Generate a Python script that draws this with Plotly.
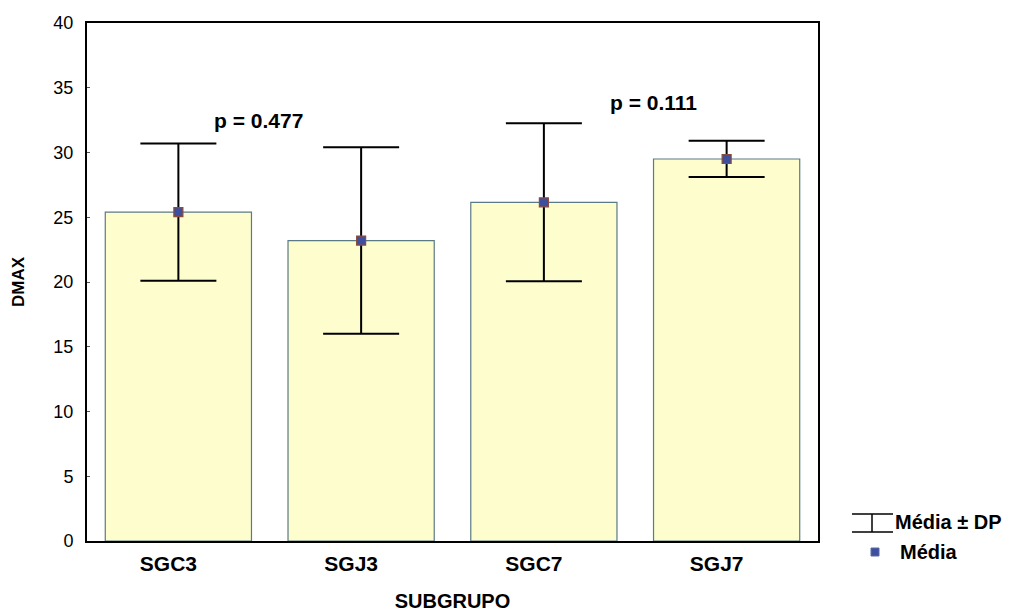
import plotly.graph_objects as go

# Subgroups, mean DMAX and standard deviation
subgrupos = ["SGC3", "SGJ3", "SGC7", "SGJ7"]
medias = [25.4, 23.2, 26.15, 29.5]
desvios = [5.3, 7.2, 6.1, 1.4]

# p-value labels: (text, x position in category units, y value)
p_textos = ["p = 0.477", "p = 0.111"]
p_x = [0.44, 2.60]
p_y = [32.5, 33.9]

FONT = "Liberation Sans, Arial, sans-serif"
x_pos = list(range(len(subgrupos)))

fig = go.Figure()

fig.add_trace(go.Bar(
    x=x_pos, y=medias, width=0.8,
    marker=dict(color="#fdfdcd", line=dict(color="#5a7a86", width=1.2)),
    showlegend=False, hoverinfo="skip",
))

fig.add_trace(go.Scatter(
    x=x_pos, y=medias, mode="markers",
    marker=dict(symbol="square", size=9, color="#3d4f9e",
                line=dict(color="#8a4b3e", width=1.2)),
    error_y=dict(type="data", array=desvios, visible=True,
                 color="black", thickness=2, width=38),
    showlegend=False,
))

for t, x, y in zip(p_textos, p_x, p_y):
    fig.add_annotation(x=x, y=y, text=f"<b>{t}</b>", showarrow=False,
                       font=dict(family=FONT, size=21, color="black"))

# Legend drawn beside the plot
lg = dict(xref="paper", yref="paper", line=dict(color="black", width=1.5))
def px_x(v):
    return (v - 87) / (818 - 87)
def px_y(v):
    return (541 - v) / (541 - 23)
fig.add_shape(type="line", x0=px_x(852), x1=px_x(893), y0=px_y(514), y1=px_y(514), **lg)
fig.add_shape(type="line", x0=px_x(852), x1=px_x(893), y0=px_y(532), y1=px_y(532), **lg)
fig.add_shape(type="line", x0=px_x(872), x1=px_x(872), y0=px_y(514), y1=px_y(532), **lg)
fig.add_shape(type="rect", x0=px_x(871), x1=px_x(879), y0=px_y(556), y1=px_y(548),
              xref="paper", yref="paper", fillcolor="#3d4f9e",
              line=dict(color="#5a6aa8", width=1))
fig.add_annotation(xref="paper", yref="paper", x=px_x(893), y=px_y(522),
                   text="<b>Média ± DP</b>", showarrow=False,
                   xanchor="left", yanchor="middle",
                   font=dict(family=FONT, size=20, color="black"))
fig.add_annotation(xref="paper", yref="paper", x=px_x(898), y=px_y(552),
                   text="<b>Média</b>", showarrow=False,
                   xanchor="left", yanchor="middle",
                   font=dict(family=FONT, size=20, color="black"))

fig.update_layout(
    width=1010, height=612,
    margin=dict(l=87, r=192, t=23, b=71),
    paper_bgcolor="white", plot_bgcolor="white",
    font=dict(family=FONT, color="black"),
    bargap=0.2,
)
fig.update_xaxes(
    range=[-0.5, 3.5], tickmode="array", tickvals=x_pos,
    ticktext=[f"<b>{s}</b>" for s in subgrupos],
    tickfont=dict(family=FONT, size=21), showgrid=False, zeroline=False,
    showline=True, linecolor="black", linewidth=2, mirror=True, ticks="",
    ticklabelstandoff=3, ticklabelshift=-10, automargin=False,
    title=dict(text="<b>SUBGRUPO</b>", font=dict(family=FONT, size=20), standoff=21),
)
fig.update_yaxes(
    range=[0, 40], dtick=5, tickfont=dict(family=FONT, size=18),
    showgrid=False, zeroline=False, showline=True, linecolor="black",
    linewidth=2, mirror=True, ticks="inside", ticklen=3, tickcolor="#555",
    ticklabelstandoff=8, automargin=False,
    title=dict(text="<b>DMAX</b>", font=dict(family=FONT, size=17), standoff=24),
)

fig.write_html("out.html")
